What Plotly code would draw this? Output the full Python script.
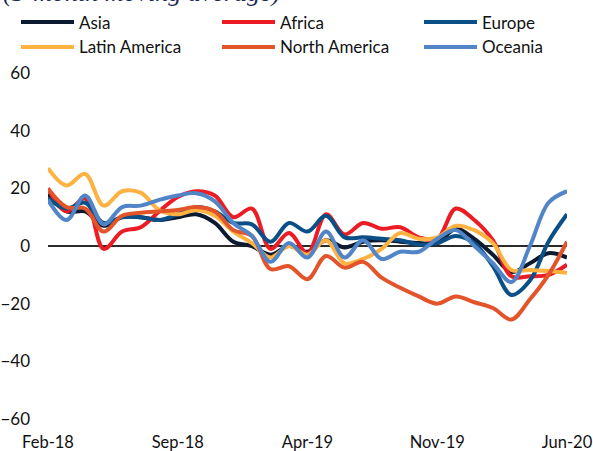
import plotly.graph_objects as go

months = ["Feb-18", "Mar-18", "Apr-18", "May-18", "Jun-18", "Jul-18", "Aug-18",
          "Sep-18", "Oct-18", "Nov-18", "Dec-18", "Jan-19", "Feb-19", "Mar-19",
          "Apr-19", "May-19", "Jun-19", "Jul-19", "Aug-19", "Sep-19", "Oct-19",
          "Nov-19", "Dec-19", "Jan-20", "Feb-20", "Mar-20", "Apr-20", "May-20",
          "Jun-20"]

asia = [18, 12, 12, 7, 10, 10, 9, 10, 11, 8, 1.5, 0, -3, 0, -2, 2, -0.5, 1.5, 2,
        1.5, 1, 1, 6, 2.5, -3, -9, -6, -2.5, -4]
africa = [20, 12, 16.5, -1, 5, 6.5, 12, 17, 19, 17.5, 10, 13, -1, 4.5, -2.5, 11, 4,
          8, 6, 6.5, 3, 2.5, 13, 9, 2, -10.5, -10.5, -10, -6.5]
europe = [16.5, 13, 15, 8, 10, 10, 9, 11, 13.5, 12, 8, 7.5, 1.5, 8, 5, 10.5, 3,
          3, 2.5, 2, 0.5, 1, 3.5, 1, -7, -17, -12, 1.5, 11]
latin_america = [27, 21, 25, 14, 19, 18.5, 12.5, 11, 12.5, 10.5, 5, 1, -4, 0, -3,
                 2, -6, -4.5, -1, 4.5, 2.5, 3, 7, 5.5, 1, -8.3, -8.3, -8.7, -9.3]
north_america = [20, 13.5, 13, 5, 10.5, 11.5, 12, 12.5, 13.5, 12, 5.5, 3.5, -8,
                 -7, -11.5, -3.5, -7.5, -5.5, -11, -14.5, -17.5, -20, -17.5,
                 -19.5, -21.5, -25.5, -18.5, -10, 1.5]
oceania = [16, 9, 17.5, 7.5, 13.5, 14, 16, 17.5, 18.3, 15.5, 8, 3.5, -5.5, 1, -4,
           5, -4, 2, -4.5, -2, -2, 2.5, 5.5, 0, -6, -12.5, 0, 15, 19]

series_names = ["Asia", "Africa", "Europe", "Latin America", "North America", "Oceania"]
series_values = [asia, africa, europe, latin_america, north_america, oceania]
series_colors = ["#0c1a30", "#ed1c24", "#0b4f86", "#fdb242", "#e4542a", "#5185c8"]

tick_labels = ["Feb-18", "Sep-18", "Apr-19", "Nov-19", "Jun-20"]
title_text = "(3-month moving average)"

# layout geometry (pixels)
W, H = 593, 451
L, R, T, B = 48, 26, 73, 32
PW, PH = W - L - R, H - T - B


def px_x(p):
    return (p - L) / PW


def px_y(p):
    return (H - B - p) / PH


fig = go.Figure()
for name, vals, col in zip(series_names, series_values, series_colors):
    fig.add_trace(go.Scatter(
        x=months, y=vals, name=name, mode="lines",
        line=dict(color=col, width=4, shape="spline", smoothing=1),
        cliponaxis=False, showlegend=False))

# manual legend (3 columns x 2 rows)
col_x = [21, 222, 424]
row_y = [22, 47]
shapes = []
annotations = []
for i, (name, col) in enumerate(zip(series_names, series_colors)):
    cx = col_x[i % 3]
    ry = row_y[i // 3]
    shapes.append(dict(type="line", xref="paper", yref="paper",
                       x0=px_x(cx), x1=px_x(cx + 53), y0=px_y(ry), y1=px_y(ry),
                       line=dict(color=col, width=4)))
    annotations.append(dict(text=name, xref="paper", yref="paper",
                            x=px_x(cx + 56), y=px_y(ry), xanchor="left",
                            yanchor="middle", showarrow=False,
                            font=dict(family="Lato", size=17, color="#111111")))

annotations.append(dict(text="<i>" + title_text + "</i>", xref="paper", yref="paper",
                        x=px_x(1), y=px_y(9), xanchor="left", yanchor="bottom",
                        showarrow=False,
                        font=dict(family="Liberation Serif", size=26, color="#1b2a55")))

fig.update_layout(
    width=W, height=H,
    margin=dict(l=L, r=R, t=T, b=B, autoexpand=False),
    paper_bgcolor="white", plot_bgcolor="white",
    shapes=shapes, annotations=annotations,
    showlegend=False,
)
fig.update_xaxes(
    type="category", range=[0, len(months) - 1], automargin=False,
    tickmode="array", tickvals=tick_labels, ticktext=tick_labels,
    showgrid=False, zeroline=False, showline=False, ticks="",
    ticklabelstandoff=11,
    tickfont=dict(family="Lato", size=16.5, color="#111111"),
)
fig.update_yaxes(
    range=[-60, 60], dtick=20, tick0=0, automargin=False,
    showgrid=False, showline=False, ticks="",
    zeroline=True, zerolinecolor="#2b2b2b", zerolinewidth=1.6,
    ticklabelstandoff=17,
    tickfont=dict(family="Lato", size=17, color="#111111"),
)

fig.write_html("out.html",
               config={"displayModeBar": False},
               post_script="document.body.style.margin='0';"
                           "document.body.style.overflow='hidden';")
